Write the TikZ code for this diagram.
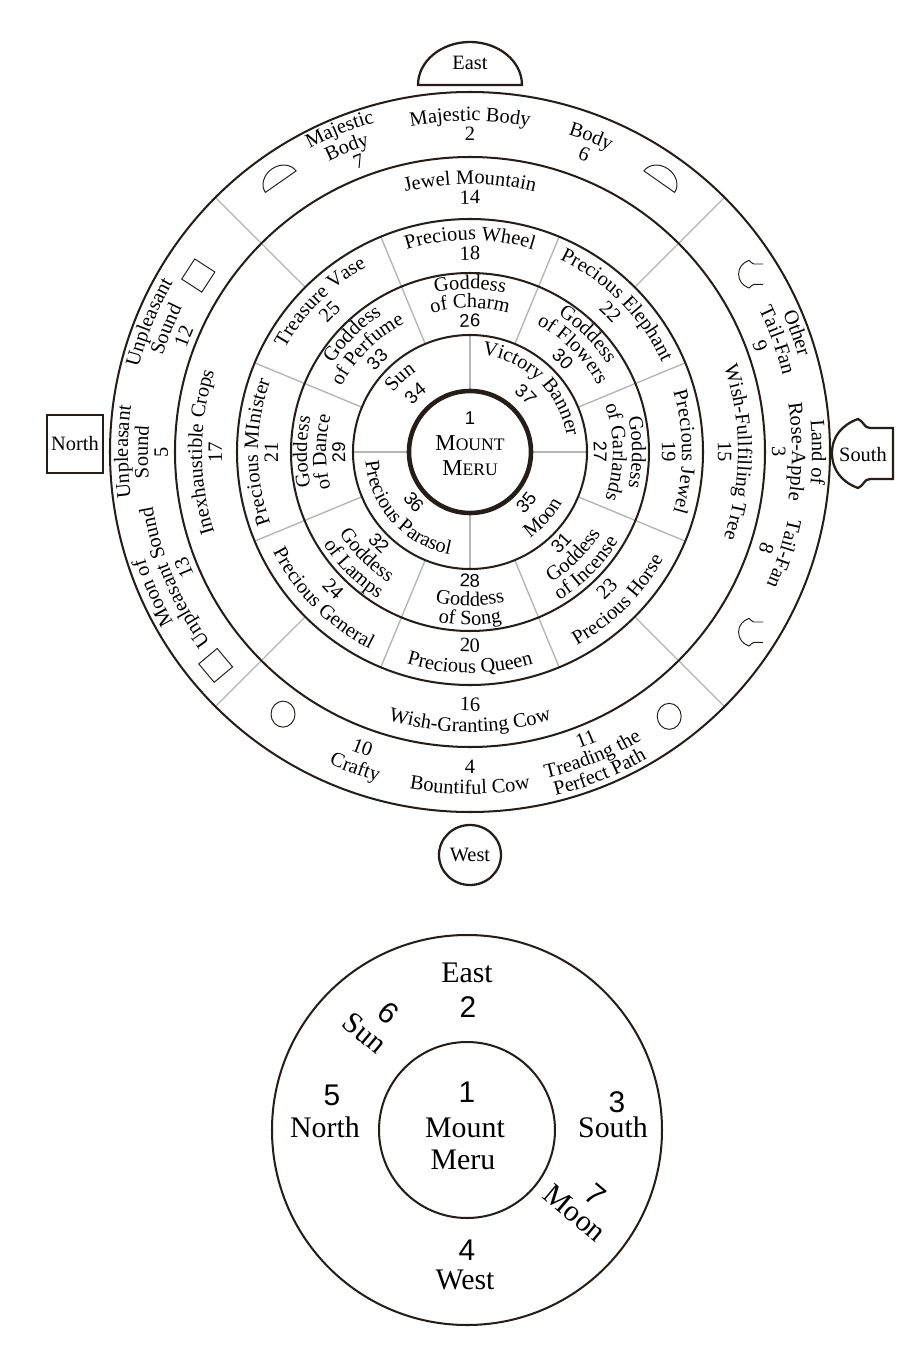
\documentclass[tikz,border=0pt]{standalone}
\usepackage{fontspec}
\setmainfont{Liberation Serif}
\setsansfont{Liberation Sans}
\usetikzlibrary{decorations.text}

\definecolor{ringline}{RGB}{38,28,24}
\definecolor{spokegray}{RGB}{182,182,182}

% text bent along a ring: angle, baseline radius, text
\newcommand{\cwlabel}[3]{%
  \pgfmathsetmacro\sa{#1+75}\pgfmathsetmacro\ea{#1-75}%
  \path[decorate,decoration={text along path,text align=center,text={#3}}]
    (\sa:#2) arc[start angle=\sa,end angle=\ea,radius=#2];}
\newcommand{\ccwlabel}[3]{%
  \pgfmathsetmacro\sa{#1-75}\pgfmathsetmacro\ea{#1+75}%
  \path[decorate,decoration={text along path,text align=center,text={#3}}]
    (\sa:#2) arc[start angle=\sa,end angle=\ea,radius=#2];}
\newcommand{\numsf}{\sffamily\fontsize{10.5}{10.5}\selectfont}

\tikzset{
  ring/.style={draw=ringline,line width=1.15pt},
  spoke/.style={draw=spokegray,line width=0.8pt},
  gate/.style={color=ringline,line width=1.3pt},
  emblem/.style={color=ringline,line width=0.55pt},
  big/.style={font=\fontsize{17}{19}\selectfont},
  bignum/.style={font=\sffamily\fontsize{17}{19}\selectfont},
  dome/.pic={\draw (-52,0) arc[start angle=180,end angle=0,x radius=52,y radius=43] -- cycle;},
  shieldmark/.pic={\draw (0,25) -- (-23,25) to[out=180,in=-20] (-35,34) to[out=200,in=90] (-61,0)
      to[out=-90,in=160] (-35,-35) to[out=20,in=180] (-23,-26) -- (0,-26);}
}

\begin{document}
\begin{tikzpicture}[x=0.02cm,y=0.02cm]
\fontsize{11.6}{11.6}\selectfont
\useasboundingbox (-470,-904) rectangle (443,452);

    % Spokes between the sectors
    \foreach \a in {0,90,180,270}
      \draw[spoke] (\a:61) -- (\a:117);
    \foreach \a in {22.5,67.5,...,337.5}
      \draw[spoke] (\a:117) -- (\a:233);
    \foreach \a in {45,135,225,315}
      \draw[spoke] (\a:233) -- (\a:360);

    % Rings
    \foreach \r in {360,295,233,179,117}
      \draw[ring] (0,0) circle[radius=\r];
    \draw[ring,line width=2.6pt] (0,0) circle[radius=61];

    % Mount Meru
    \node[align=center,font=\fontsize{13}{14.5}\selectfont] (meru) at (0,8)
      {{\numsf 1}\\M{\fontsize{10}{10}\selectfont OUNT}\\M{\fontsize{10}{10}\selectfont ERU}};

    % Outer ring
    \cwlabel{90}{331}{Majestic Body}
    \cwlabel{90}{311}{2}
    \cwlabel{112}{343}{Majestic}
    \cwlabel{112}{323}{Body}
    \cwlabel{111}{304}{7}
    \cwlabel{69}{332}{Body}
    \cwlabel{69}{312}{6}
    \cwlabel{20}{342}{Other}
    \cwlabel{20}{322}{Tail-Fan}
    \cwlabel{20}{302}{9}
    \cwlabel{0}{342}{Land of}
    \cwlabel{0}{322}{Rose-Apple}
    \cwlabel{0}{302}{3}
    \cwlabel{-18}{325}{Tail-Fan}
    \cwlabel{-18}{305}{8}
    \cwlabel{158}{342}{Unpleasant}
    \cwlabel{158}{322}{Sound}
    \cwlabel{158}{302}{12}
    \cwlabel{180}{342}{Unpleasant}
    \cwlabel{180}{322}{Sound}
    \cwlabel{180}{302}{5}
    \cwlabel{204}{342}{Moon of}
    \cwlabel{203}{322}{Unpleasant Sound}
    \cwlabel{202}{302}{13}
    \ccwlabel{250}{321}{10}
    \ccwlabel{250}{342}{Crafty}
    \ccwlabel{270}{321}{4}
    \ccwlabel{270}{342}{Bountiful Cow}
    \ccwlabel{292}{316}{11}
    \ccwlabel{292}{335}{Treading the}
    \ccwlabel{292}{354}{Perfect Path}

    % Second ring
    \cwlabel{90}{268}{Jewel Mountain}
    \cwlabel{90}{248}{14}
    \cwlabel{0}{268}{Wish-Fullfilling Tree}
    \cwlabel{0}{248}{15}
    \ccwlabel{270}{259}{16}
    \ccwlabel{270}{280}{Wish-Granting Cow}
    \cwlabel{180}{268}{Inexhaustible Crops}
    \cwlabel{180}{248}{17}

    % Third ring
    \cwlabel{90}{212}{Precious Wheel}
    \cwlabel{90}{192}{18}
    \cwlabel{45}{212}{Precious Elephant}
    \cwlabel{45}{192}{22}
    \cwlabel{0}{212}{Precious Jewel}
    \cwlabel{0}{192}{19}
    \ccwlabel{315}{200}{23}
    \ccwlabel{315}{221}{Precious Horse}
    \ccwlabel{270}{200}{20}
    \ccwlabel{270}{221}{Precious Queen}
    \ccwlabel{225}{200}{24}
    \ccwlabel{225}{221}{Precious General}
    \cwlabel{180}{212}{Precious MInister}
    \cwlabel{180}{192}{21}
    \cwlabel{135}{212}{Treasure Vase}
    \cwlabel{135}{192}{25}

    % Fourth ring
    \cwlabel{90}{163}{Goddess}
    \cwlabel{90}{144}{of Charm}
    \cwlabel{90}{125}{|\numsf|26}
    \cwlabel{45}{163}{Goddess}
    \cwlabel{45}{144}{of Flowers}
    \cwlabel{45}{125}{|\numsf|30}
    \cwlabel{0}{162}{Goddess}
    \cwlabel{0}{143}{of Garlands}
    \cwlabel{0}{124}{|\numsf|27}
    \ccwlabel{315}{135}{|\numsf|31}
    \ccwlabel{315}{154}{Goddess}
    \ccwlabel{315}{173}{of Incense}
    \ccwlabel{270}{135}{|\numsf|28}
    \ccwlabel{270}{154}{Goddess}
    \ccwlabel{270}{173}{of Song}
    \ccwlabel{225}{135}{|\numsf|32}
    \ccwlabel{225}{154}{Goddess}
    \ccwlabel{225}{173}{of Lamps}
    \cwlabel{180}{163}{Goddess}
    \cwlabel{180}{144}{of Dance}
    \cwlabel{180}{125}{|\numsf|29}
    \cwlabel{135}{163}{Goddess}
    \cwlabel{135}{144}{of Perfume}
    \cwlabel{135}{125}{|\numsf|33}

    % Inner ring
    \cwlabel{46}{98}{Victory Banner}
    \cwlabel{46}{74}{|\numsf|37}
    \cwlabel{133}{97}{Sun}
    \cwlabel{133}{74}{|\numsf|34}
    \ccwlabel{222}{82}{|\numsf|36}
    \ccwlabel{222}{105}{Precious Parasol}
    \ccwlabel{318}{82}{|\numsf|35}
    \ccwlabel{318}{105}{Moon}

    % Gates
    \path (0,367) pic[gate]{dome};
    \node (east) at (0,389) {East};
    \draw[gate,line width=1.6pt] (-423,-21) rectangle (-367,37);
    \node (north) at (-395,8) {North};
    \draw[gate] (423,24) -- (400,24) to[out=180,in=-20] (388,33) to[out=200,in=90] (362,-1)
      to[out=-90,in=160] (388,-36) to[out=20,in=180] (400,-27) -- (423,-27) -- cycle;
    \node (south) at (393,-3) {South};
    \draw[gate] (0,-403) ellipse[x radius=31,y radius=30];
    \node (west) at (0,-403) {West};

    % Small marks in the outer ring
    \foreach \a in {55,125}
      \path (\a:330) pic[emblem,rotate=\a-90,scale=0.36]{dome};
    \path (293,178) pic[emblem,scale=0.4]{shieldmark};
    \path (293,-180) pic[emblem,scale=0.4]{shieldmark};
    \draw[emblem,shift={(147:324)},rotate=-33] (-12,-12) rectangle (12,12);
    \draw[emblem,shift={(220:332)},rotate=40] (-12,-12) rectangle (12,12);
    \draw[emblem] (234.5:322) ellipse[x radius=12,y radius=13];
    \draw[emblem] (307:331) ellipse[x radius=12,y radius=13];

    % Small plan below
    \begin{scope}[shift={(-3,-678)}]
      \draw[ring] (0,0) circle[radius=195];
      \draw[ring] (0,0) circle[radius=88];
      \node[big] (east2) at (0,157) {East};
      \node[bignum] (two) at (1,123) {2};
      \node[bignum] (five) at (-135,35) {5};
      \node[big] (north2) at (-142,3) {North};
      \node[bignum] (one) at (0,38) {1};
      \node[big] (mount) at (-2,2) {Mount};
      \node[big] (meru2) at (-4,-30) {Meru};
      \node[bignum] (three) at (150,28) {3};
      \node[big] (south2) at (146,3) {South};
      \node[bignum] (four) at (0,-120) {4};
      \node[big] (west2) at (-2,-150) {West};
      \node[bignum,rotate=-40] (six) at (-79,117) {6};
      \node[big,rotate=-40] (sun) at (-102,97) {Sun};
      \node[bignum,rotate=-40] (seven) at (128,-65) {7};
      \node[big,rotate=-40] (moon) at (108,-83) {Moon};
    \end{scope}

\end{tikzpicture}
\end{document}
